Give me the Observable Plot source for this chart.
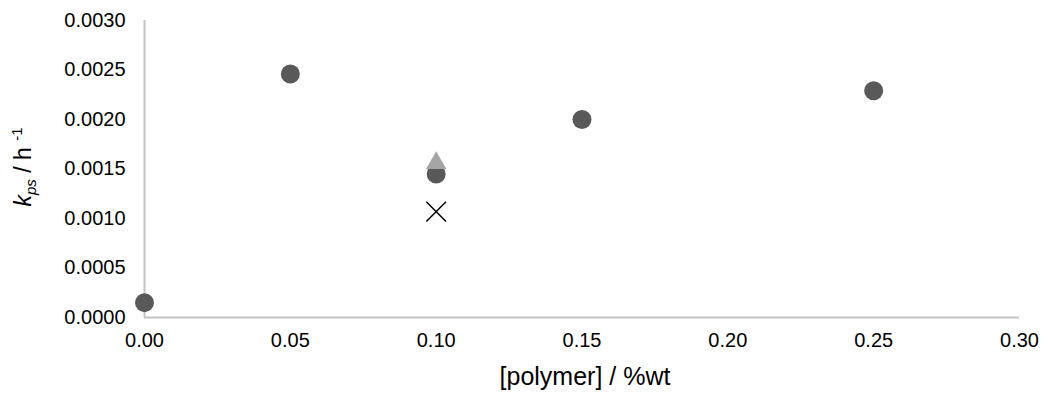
<!DOCTYPE html>
<html><head><meta charset="utf-8">
<script src="https://cdn.jsdelivr.net/npm/d3@7"></script>
<script src="https://cdn.jsdelivr.net/npm/@observablehq/plot@0.6"></script>
<style>
body{margin:0;background:#fff}
svg{font-family:"Liberation Sans",Arial,sans-serif}
</style>
</head><body><div id="chart"></div>
<script>
const polymer = [0.00, 0.05, 0.10, 0.15, 0.25];
const kpsCircle = [0.00015, 0.00246, 0.00145, 0.00200, 0.00229];
const triPolymer = [0.10];
const kpsTriangle = [0.00156];
const crossPolymer = [0.10];
const kpsCross = [0.00107];
const xTicks = [0.00, 0.05, 0.10, 0.15, 0.20, 0.25, 0.30];
const yTicks = [0.0000, 0.0005, 0.0010, 0.0015, 0.0020, 0.0025, 0.0030];

const circles = polymer.map((x, i) => ({x, y: kpsCircle[i]}));
const tris = triPolymer.map((x, i) => ({x, y: kpsTriangle[i]}));
const crosses = crossPolymer.map((x, i) => ({x, y: kpsCross[i]}));

const chart = Plot.plot({
  width: 1052, height: 396,
  marginLeft: 144, marginRight: 33, marginTop: 20, marginBottom: 79,
  style: {fontSize: "20px", color: "#000", background: "#fff", fontFamily: "'Liberation Sans', Arial, sans-serif"},
  x: {domain: [0, 0.3], ticks: xTicks, tickFormat: d3.format(".2f"), tickSize: 0, tickPadding: 15, label: null},
  y: {domain: [0, 0.003], ticks: yTicks, tickFormat: d3.format(".4f"), tickSize: 0, tickPadding: 19, label: null},
  marks: [
    Plot.ruleX([0], {stroke: "#c4c4c4", strokeWidth: 2}),
    Plot.ruleY([0], {stroke: "#c4c4c4", strokeWidth: 2}),
    Plot.dot(circles, {x: "x", y: "y", r: 9.5, fill: "#595959", stroke: null}),
    Plot.dot(tris, {x: "x", y: "y", r: 7.6, symbol: "triangle", fill: "#a5a5a5", stroke: null}),
    Plot.dot(crosses, {x: "x", y: "y", r: 9, symbol: "times", stroke: "#000", strokeWidth: 1.5})
  ]
});
document.getElementById("chart").appendChild(chart);

const svg = d3.select(chart);
svg.append("text")
  .attr("x", 585).attr("y", 385)
  .attr("text-anchor", "middle")
  .style("font-size", "25px")
  .attr("fill", "#000")
  .text("[polymer] / %wt");

const yl = svg.append("text")
  .attr("transform", "translate(31,167) rotate(-90)")
  .attr("text-anchor", "middle")
  .style("font-size", "23px")
  .attr("fill", "#000");
yl.append("tspan").style("font-style", "italic").text("k");
yl.append("tspan").style("font-style", "italic").style("font-size", "15px").attr("dy", "5").text("ps");
yl.append("tspan").attr("dy", "-5").text(" / h ");
yl.append("tspan").style("font-size", "15px").attr("dy", "-9").text("-1");
</script></body></html>
